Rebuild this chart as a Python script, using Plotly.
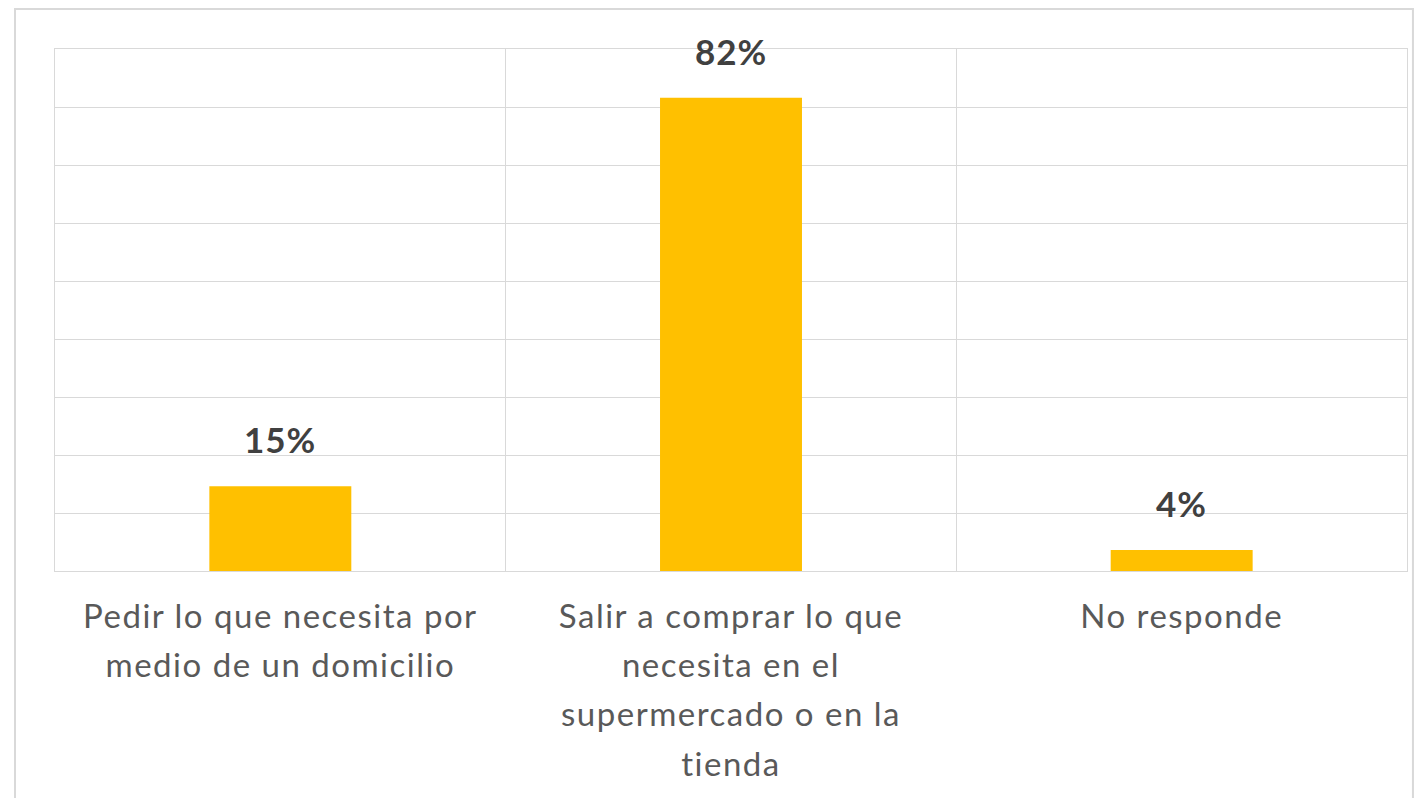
import plotly.graph_objects as go

categories = [
    "Pedir lo que necesita por medio de un domicilio",
    "Salir a comprar lo que necesita en el supermercado o en la tienda",
    "No responde",
]
tick_labels = [
    "Pedir lo que necesita por<br>medio de un domicilio",
    "Salir a comprar lo que<br>necesita en el<br>supermercado o en la<br>tienda",
    "No responde",
]
values = [0.146, 0.816, 0.036]

BAR = "#FFC000"
GRID = "#D9D9D9"
FONT = "Lato, 'Open Sans', sans-serif"

fig = go.Figure()
fig.add_trace(go.Bar(
    x=categories, y=values, marker=dict(color=BAR, line=dict(width=0)),
    width=0.315, hoverinfo="skip", showlegend=False,
))

for c, v in zip(categories, values):
    fig.add_annotation(
        x=c, y=v, xref="x", yref="y",
        text=f"<span style='letter-spacing:1px'><b>{v:.0%}</b></span>",
        showarrow=False, yanchor="bottom", yshift=24,
        font=dict(family=FONT, size=35, color="#404040"),
    )

fig.add_shape(type="rect", xref="paper", yref="paper",
              x0=-0.0296, x1=1.0044, y0=-0.6, y1=1.0766,
              line=dict(color=GRID, width=2), layer="below")

fig.update_xaxes(
    tickmode="array", tickvals=categories,
    ticktext=[f"<span style='font-size:33px;letter-spacing:1.5px'>{t}</span>" for t in tick_labels],
    tickson="boundaries", showgrid=True, gridcolor=GRID, gridwidth=1,
    showline=True, linecolor=GRID, linewidth=1, mirror=True,
    ticks="", tickfont=dict(family=FONT, size=38, color="#595959"),
    ticklabelstandoff=10,
)
fig.update_yaxes(
    range=[0, 0.9], dtick=0.1, showticklabels=False, showgrid=True,
    gridcolor=GRID, gridwidth=1, zeroline=False,
    showline=True, linecolor=GRID, linewidth=1, mirror=True,
)
fig.update_layout(
    width=1406, height=790,
    margin=dict(l=47, r=7, t=41, b=227),
    plot_bgcolor="white", paper_bgcolor="white",
    bargap=0.685,
)
fig.write_html("out.html")
